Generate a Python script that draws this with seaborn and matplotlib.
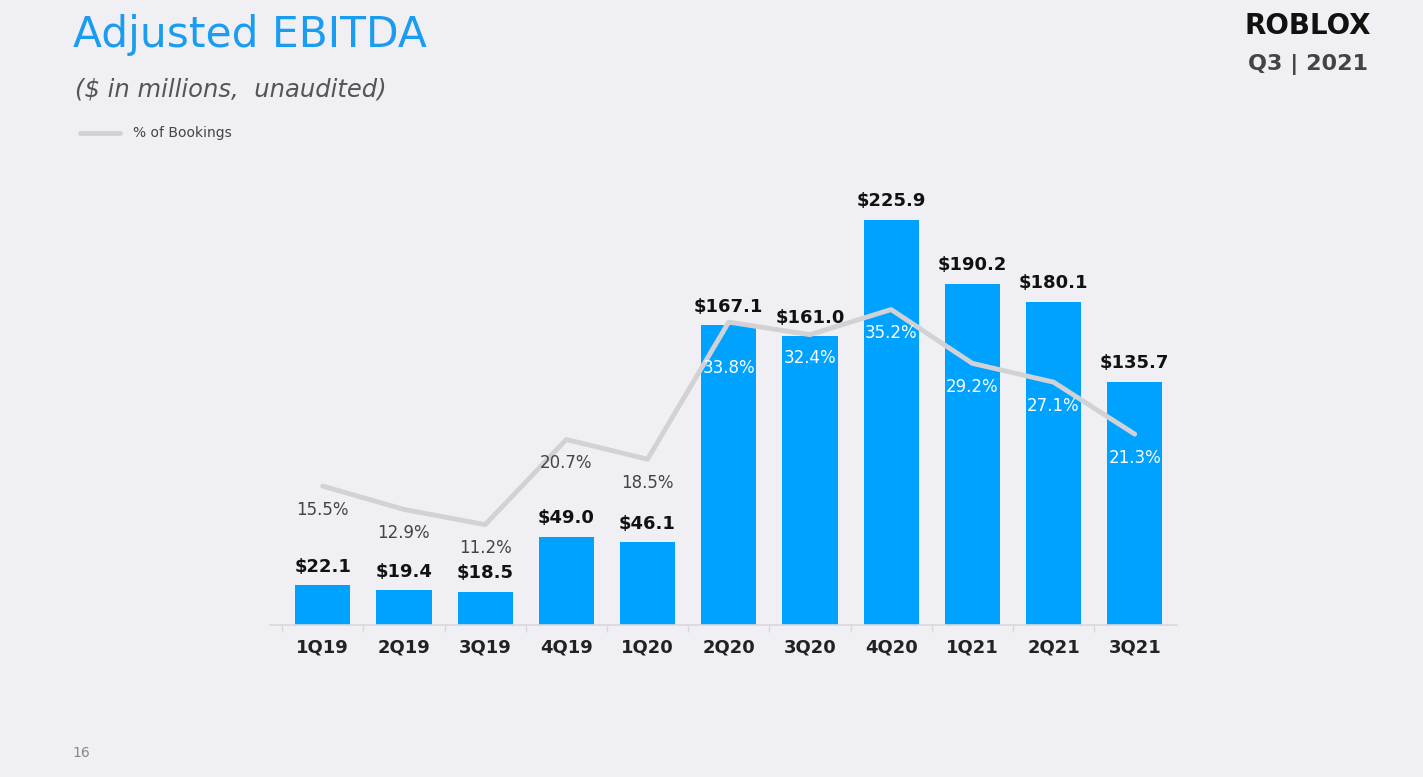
import matplotlib
matplotlib.use("Agg")
import matplotlib.pyplot as plt
import seaborn as sns
import numpy as np
import pandas as pd

quarters = ["1Q19", "2Q19", "3Q19", "4Q19", "1Q20", "2Q20", "3Q20", "4Q20", "1Q21", "2Q21", "3Q21"]
ebitda = [22.1, 19.4, 18.5, 49.0, 46.1, 167.1, 161.0, 225.9, 190.2, 180.1, 135.7]
pct_bookings = [15.5, 12.9, 11.2, 20.7, 18.5, 33.8, 32.4, 35.2, 29.2, 27.1, 21.3]

bg = "#f0f0f4"
blue = "#00a2ff"
line_grey = "#d2d2d6"

sns.set_theme(style="white")
plt.rcParams["font.family"] = ["DejaVu Sans"]

df = pd.DataFrame({"quarter": quarters, "ebitda": ebitda, "pct": pct_bookings})

fig = plt.figure(figsize=(14.23, 7.77), dpi=100, facecolor=bg)
ax = fig.add_axes([0.1897, 0.1956, 0.6374, 0.6113])
ax.set_facecolor(bg)

sns.barplot(data=df, x="quarter", y="ebitda", color=blue, width=0.68,
            saturation=1, linewidth=0, ax=ax)
ax.set_ylim(0, 264.9)
ax.set_xlim(-0.65, 10.52)

# line on a second axis, same baseline
ax2 = ax.twinx()
sns.lineplot(x=np.arange(len(quarters)), y=df["pct"], ax=ax2, color=line_grey,
             linewidth=3.5, zorder=3)
ax2.set_ylim(0, 53.0)
ax2.set_xlim(-0.65, 10.52)
ax2.axis("off")

# bar value labels
for i, v in enumerate(ebitda):
    ax.annotate(f"${v:.1f}", (i, v), xytext=(0, 7), textcoords="offset points",
                ha="center", va="bottom", fontsize=13, fontweight="bold", color="#111111")

# percentage labels
for i, p in enumerate(pct_bookings):
    off = -33 if quarters[i] == "2Q20" else -17
    col = "#444444" if i < 5 else "white"
    ax2.annotate(f"{p:.1f}%", (i, p), xytext=(0, off), textcoords="offset points",
                 ha="center", va="center", fontsize=12, color=col)

for s in ["top", "right", "left"]:
    ax.spines[s].set_visible(False)
ax.spines["bottom"].set_color("#d8d8dc")
ax.spines["bottom"].set_linewidth(1.2)
ax.set_yticks([])
ax.set_xlabel("")
ax.set_ylabel("")
ax.tick_params(axis="x", length=0, pad=10)
for lab in ax.get_xticklabels():
    lab.set_fontweight("bold")
    lab.set_fontsize(13)
    lab.set_color("#222222")
ax.set_xticks(np.arange(len(quarters)) - 0.5, minor=True)
ax.tick_params(axis="x", which="minor", bottom=True, length=5, color="#d8d8dc",
               width=1, direction="out")

# header texts
fig.text(0.051, 0.955, "Adjusted EBITDA", fontsize=30.5, color="#1a9cf0",
         ha="left", va="center")
fig.text(0.053, 0.885, "($ in millions,  unaudited)", fontsize=17.5, style="italic",
         color="#555555", ha="left", va="center")
fig.lines.append(plt.Line2D([0.056, 0.084], [0.829, 0.829], transform=fig.transFigure,
                            color=line_grey, linewidth=3.5))
fig.text(0.0935, 0.829, "% of Bookings", fontsize=10, color="#444444",
         ha="left", va="center")

fig.text(0.919, 0.967, "ROBLOX", fontsize=20, fontweight="heavy", color="#111111",
         ha="center", va="center")
fig.text(0.9195, 0.917, "Q3 | 2021", fontsize=16, fontweight="bold", color="#444444",
         ha="center", va="center")
fig.text(0.051, 0.031, "16", fontsize=10, color="#888888", ha="left", va="center")

fig.savefig("out.png", dpi=100, facecolor=bg)
